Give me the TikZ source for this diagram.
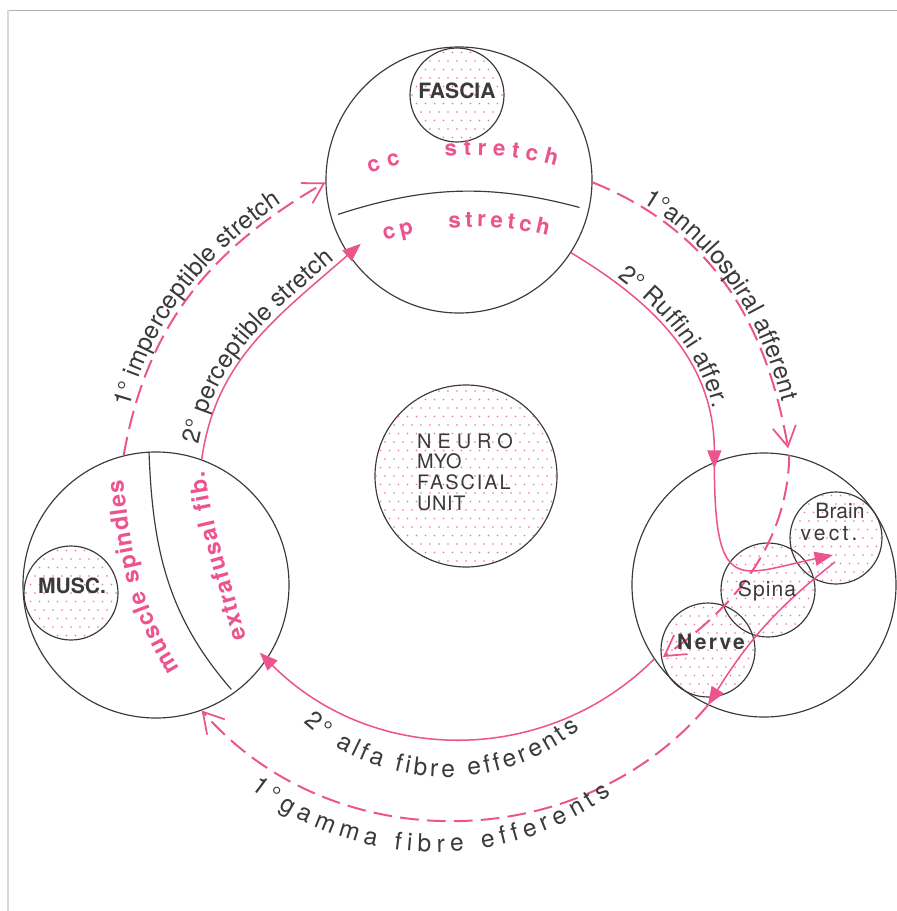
\documentclass[tikz,border=0pt]{standalone}
\usepackage{fontspec}
\setmainfont{TeX Gyre Heros}
\usetikzlibrary{calc,arrows.meta,decorations.text}

\definecolor{nmpink}{RGB}{236,84,142}
\definecolor{nmink}{RGB}{58,58,58}

\newcommand{\arclabfont}{\fontsize{21}{25}\selectfont\color{nmink}}
\newcommand{\pinklabfont}{\fontsize{20}{24}\selectfont\bfseries\color{nmpink}}
\newcommand{\strfont}{\fontsize{19}{22}\selectfont\bfseries\color{nmpink}}

\begin{document}
\begin{tikzpicture}[x=0.03cm,y=0.03cm,
    ring/.style={circle,draw=nmink,line width=1pt,inner sep=0pt,minimum size=#1*0.6mm},
    pinkline/.style={nmpink,line width=1.3pt,-{Triangle[length=5.5mm,width=4.2mm]}},
    pinkdash/.style={nmpink,line width=1.7pt,dash pattern=on 16pt off 7pt,-{Straight Barb[length=6mm,width=7mm,line width=1.5pt]}},
    divline/.style={nmink,line width=1pt},
    curvelabel/.style 2 args={decorate,decoration={text along path,text={#1},text align=center,raise=#2}},
    fitlabel/.style={decorate,decoration={text along path,text={#1},text align=fit to path}},
    boldlbl/.style={font=\fontsize{18}{21}\selectfont\bfseries,text=nmink,anchor=base,inner sep=0pt},
    plainlbl/.style={font=\fontsize{18}{21}\selectfont,text=nmink,anchor=base,inner sep=0pt},
    unitlbl/.style={font=\fontsize{17}{20}\selectfont,text=nmink,anchor=base west,inner sep=0pt}]

  \useasboundingbox (0,0) rectangle (897,-911);
  \draw[gray!60,line width=0.7pt] (8,-10) -- (897,-10);
  \draw[gray!30,line width=1.2pt] (8,-10) -- (8,-911);

  % the three big rings and the small ones
  \node[ring=133] (topring) at (459,-180) {};
  \node[ring=133] (leftring) at (156,-585) {};
  \node[ring=132] (rightring) at (764,-585) {};
  \node[ring=47] (fascia) at (457,-95) {};
  \node[ring=47] (musc) at (71,-593) {};
  \node[ring=91] (neuro) at (466,-476) {};
  \node[ring=46] (brain) at (836,-538) {};
  \node[ring=47] (spina) at (768,-590) {};
  \node[ring=47] (nerve) at (708,-650) {};

  % pink dot screen
  \foreach \cn/\rd in {fascia/47,musc/47,neuro/91,brain/46,spina/47,nerve/47}{
    \begin{scope}
      \clip (\cn.center) circle[radius=\rd];
      \foreach \j in {-11,...,11}
        \foreach \i in {-16,...,16}
          \fill[nmpink!85] ($(\cn.center)+(\i*9+\j*4.5,\j*8.5)$) circle[radius=0.9];
    \end{scope}
  }

  \coordinate (anntip) at ([shift={(-45,-7)}]nerve.center);
  \coordinate (ruftip) at ([shift={(-3,-17)}]brain.center);
  \coordinate (gamstart) at ([shift={(-1,-24)}]brain.center);

  % dividing lines
  \draw[divline,shorten <=2.4mm,shorten >=3mm] (topring.196) to[out=18,in=165] (topring.-13);
  \draw[divline,shorten >=1.5mm] (leftring.93) to[out=-88,in=131] (leftring.-54);

  % muscle -> fascia
  \draw[pinkdash] (leftring.104) to[out=80,in=210] (topring.181);
  \draw[pinkline,shorten >=-5mm] (leftring.70) to[out=82,in=221] (topring.214);
  % fascia -> nerve
  \draw[pinkdash,shorten >=2mm] (topring.-1) to[out=-22,in=100] (rightring.79);
  \draw[pinkdash] (rightring.79) .. controls +(-2,-105) and +(50,35) .. (anntip);
  \draw[pinkline,shorten >=-2mm] (topring.-33) to[out=-31,in=90] (rightring.112);
  \draw[pinkline] (rightring.112) .. controls +(0,-135) and +(-95,-20) .. (ruftip);
  % nerve -> muscle
  \draw[pinkline] (gamstart) to[out=218,in=58] (rightring.245);
  \draw[pinkdash] (rightring.245) to[out=230,in=-49] (leftring.-70);
  \draw[pinkline,shorten >=-3mm] (rightring.214) to[out=225,in=-45] (leftring.-34);

  % labels along the arrows
  \path[curvelabel={|\arclabfont|1° imperceptible stretch}{1.6mm}] (leftring.104) to[out=80,in=210] (topring.181);
  \path[curvelabel={|\arclabfont|2° perceptible stretch}{1.6mm}] (leftring.70) to[out=82,in=221] (topring.214);
  \path[curvelabel={|\arclabfont|1°annulospiral afferent}{1.3mm}] (topring.-1) to[out=-22,in=100] (rightring.79);
  \path[curvelabel={|\arclabfont|2° Ruffini affer.}{1.6mm}] (topring.-33) to[out=-31,in=90] (rightring.112);
  \coordinate (alfactr) at (446,-564);
  \path[fitlabel={|\arclabfont|2° alfa fibre efferents}] ($(alfactr)+(228:213)$) arc[start angle=228,end angle=309,radius=213];
  \coordinate (gamctr) at (435,-552);
  \path[fitlabel={|\arclabfont|1°gamma fibre efferents}] ($(gamctr)+(232:300)$) arc[start angle=232,end angle=306,radius=300];

  % labels inside the rings
  \coordinate (ccctr) at (475,-455);
  \coordinate (cpctr) at (475,-527);
  \path[fitlabel={|\strfont|cc}] ($(ccctr)+(110.5:300)$) arc[start angle=110.5,end angle=104.3,radius=300];
  \path[fitlabel={|\strfont|stretch}] ($(ccctr)+(95.7:300)$) arc[start angle=95.7,end angle=74.3,radius=300];
  \path[fitlabel={|\strfont|cp}] ($(cpctr)+(107.5:300)$) arc[start angle=107.5,end angle=101.7,radius=300];
  \path[fitlabel={|\strfont|stretch}] ($(cpctr)+(95:300)$) arc[start angle=95,end angle=75.9,radius=300];
  \path[fitlabel={|\pinklabfont|muscle spindles}] (180,-668) to[out=122,in=-83] (123,-480);
  \path[fitlabel={|\pinklabfont|extrafusal fib.}] (246,-638) to[out=104,in=-82] (205,-471);

  \node[boldlbl] (fascialbl) at (457,-98) {FASCIA};
  \node[boldlbl] (musclbl) at (72,-593) {MUSC.};
  \node[plainlbl] (brainlbl) at (840,-518) {Brain};
  \node[plainlbl] (vectlbl) at (829,-540) {\addfontfeatures{LetterSpace=15}vect.};
  \node[plainlbl] (spinalbl) at (767,-596) {\addfontfeatures{LetterSpace=5}Spina};
  \node[boldlbl] (nervelbl) at (711,-649) {\addfontfeatures{LetterSpace=10}Nerve};
  \node[unitlbl] (neuroword) at (417,-448) {\addfontfeatures{LetterSpace=30}NEURO};
  \node[unitlbl] (myoword) at (417,-468) {MYO};
  \node[unitlbl] (fascword) at (417,-489) {\addfontfeatures{LetterSpace=10}FASCIAL};
  \node[unitlbl] (unitword) at (417,-510) {\addfontfeatures{LetterSpace=3}UNIT};
\end{tikzpicture}
\end{document}
